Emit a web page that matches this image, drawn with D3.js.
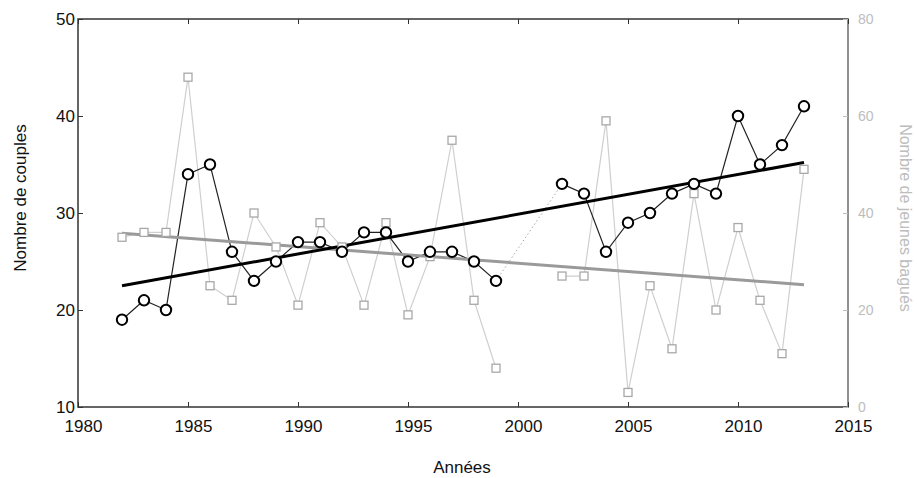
<!DOCTYPE html>
<html>
<head>
<meta charset="utf-8">
<script src="https://d3js.org/d3.v7.min.js"></script>
<style>
  body { margin: 0; background: #fff; }
  text { font-family: "Liberation Sans", Arial, sans-serif; }
</style>
</head>
<body>
<svg width="917" height="478"></svg>
<script>
// years, with null where no count was made
const years = d3.range(1982, 2014);
const couples = [19, 21, 20, 34, 35, 26, 23, 25, 27, 27, 26, 28, 28, 25, 26, 26, 25, 23,
    null, null, 33, 32, 26, 29, 30, 32, 33, 32, 40, 35, 37, 41];
const jeunes = [35, 36, 36, 68, 25, 22, 40, 33, 21, 38, 33, 21, 38, 19, 31, 55, 22, 8,
    null, null, 27, 27, 59, 3, 25, 12, 44, 20, 37, 22, 11, 49];
// trend line end points
const trendYears = [1982, 2013];
const trendCouples = [22.5, 35.2];
const trendJeunes = [35.8, 25.2];
const xTicks = [1980, 1985, 1990, 1995, 2000, 2005, 2010, 2015];
const yLeftTicks = [10, 20, 30, 40, 50];
const yRightTicks = [0, 20, 40, 60, 80];

let svg = d3.select("svg"),
    margin = {top: 19, bottom: 71, left: 78, right: 69},
    width = svg.attr("width") - margin.left - margin.right,
    height = svg.attr("height") - margin.top - margin.bottom;

let g = svg.append("g")
    .attr("transform", "translate(" + margin.left + "," + margin.top + ")");

let xScale = d3.scaleLinear().domain([1980, 2015]).range([0, width]);
let yLeft = d3.scaleLinear().domain([10, 50]).range([height, 0]);
let yRight = d3.scaleLinear().domain([0, 80]).range([height, 0]);

const dark = "#333", light = "#bdbdbd";

// frame
g.append("rect")
    .attr("width", width).attr("height", height)
    .attr("fill", "none").attr("stroke", dark).attr("stroke-width", 1.5);
g.append("line")
    .attr("x1", width).attr("x2", width).attr("y1", 0).attr("y2", height)
    .attr("stroke", "#a0a0a0").attr("stroke-width", 1.5);

// axes, ticks pointing inward
g.append("g")
    .attr("transform", "translate(0," + height + ")")
    .call(d3.axisBottom(xScale).tickValues(xTicks).tickFormat(d3.format("d"))
        .tickSizeInner(-5).tickSizeOuter(0).tickPadding(13))
    .call(a => a.select(".domain").remove())
    .call(a => a.selectAll("line").attr("stroke", dark))
    .call(a => a.selectAll("text").attr("font-size", "17px").attr("fill", "#111")
        .attr("dx", 5));
g.append("g")
    .call(d3.axisTop(xScale).tickValues(xTicks).tickFormat("")
        .tickSizeInner(-5).tickSizeOuter(0))
    .call(a => a.select(".domain").remove())
    .call(a => a.selectAll("line").attr("stroke", dark));
g.append("g")
    .call(d3.axisLeft(yLeft).tickValues(yLeftTicks)
        .tickSizeInner(-5).tickSizeOuter(0).tickPadding(3))
    .call(a => a.select(".domain").remove())
    .call(a => a.selectAll("line").attr("stroke", dark))
    .call(a => a.selectAll("text").attr("font-size", "17px").attr("fill", "#111"));
g.append("g")
    .attr("transform", "translate(" + width + ",0)")
    .call(d3.axisRight(yRight).tickValues(yRightTicks)
        .tickSizeInner(-5).tickSizeOuter(0).tickPadding(10))
    .call(a => a.select(".domain").remove())
    .call(a => a.selectAll("line").attr("stroke", light))
    .call(a => a.selectAll("text").attr("font-size", "14px").attr("fill", light));

// axis labels
svg.append("text")
    .attr("x", margin.left + width / 2 - 1).attr("y", 473)
    .attr("text-anchor", "middle").attr("font-size", "17px").attr("fill", "#111")
    .text("Années");
svg.append("text")
    .attr("transform", "translate(26,198) rotate(-90)")
    .attr("text-anchor", "middle").attr("font-size", "17px").attr("fill", "#111")
    .text("Nombre de couples");
svg.append("text")
    .attr("transform", "translate(900,218) rotate(90)")
    .attr("text-anchor", "middle").attr("font-size", "16px").attr("fill", light)
    .text("Nombre de jeunes bagués");

const rows = years.map((y, i) => ({year: y, c: couples[i], j: jeunes[i]}));

// jeunes bagués (right axis)
g.append("path")
    .datum(rows)
    .attr("fill", "none").attr("stroke", "#cfcfcf").attr("stroke-width", 1.2)
    .attr("d", d3.line().defined(d => d.j !== null)
        .x(d => xScale(d.year)).y(d => yRight(d.j)));

// dotted link across the gap in couples
const gapRows = rows.filter(d => d.year === 1999 || d.year === 2002);
g.append("path")
    .datum(gapRows)
    .attr("fill", "none").attr("stroke", "#aaa").attr("stroke-width", 1)
    .attr("stroke-dasharray", "1.5,2.5")
    .attr("d", d3.line().x(d => xScale(d.year)).y(d => yLeft(d.c)));

// couples (left axis)
g.append("path")
    .datum(rows)
    .attr("fill", "none").attr("stroke", "#222").attr("stroke-width", 1.2)
    .attr("d", d3.line().defined(d => d.c !== null)
        .x(d => xScale(d.year)).y(d => yLeft(d.c)));

// trend lines
g.append("path")
    .datum(trendYears.map((y, i) => [y, trendJeunes[i]]))
    .attr("fill", "none").attr("stroke", "#9a9a9a").attr("stroke-width", 3)
    .attr("d", d3.line().x(d => xScale(d[0])).y(d => yRight(d[1])));
g.append("path")
    .datum(trendYears.map((y, i) => [y, trendCouples[i]]))
    .attr("fill", "none").attr("stroke", "#000").attr("stroke-width", 3)
    .attr("d", d3.line().x(d => xScale(d[0])).y(d => yLeft(d[1])));

// markers
g.append("g").selectAll("rect")
    .data(rows.filter(d => d.j !== null))
    .join("rect")
    .attr("x", d => xScale(d.year) - 4)
    .attr("y", d => yRight(d.j) - 4)
    .attr("width", 8).attr("height", 8)
    .attr("fill", "#fff").attr("stroke", "#a8a8a8").attr("stroke-width", 1.3);

g.append("g").selectAll("circle")
    .data(rows.filter(d => d.c !== null))
    .join("circle")
    .attr("cx", d => xScale(d.year))
    .attr("cy", d => yLeft(d.c))
    .attr("r", 5.2)
    .attr("fill", "#fff").attr("stroke", "#000").attr("stroke-width", 2);
</script>
</body>
</html>
